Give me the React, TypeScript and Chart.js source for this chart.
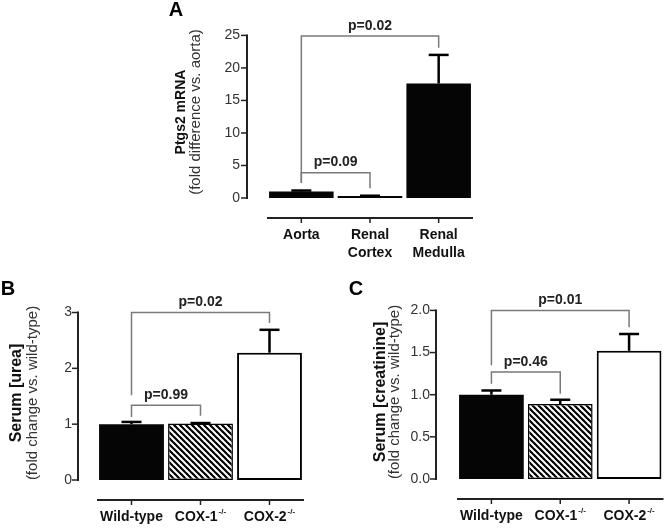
import React, { useEffect, useRef } from "react";
import { Chart, registerables } from "chart.js";

Chart.register(...registerables);

const FONT = "'Liberation Sans', Arial, Helvetica, sans-serif";

// ---------- Panel A data ----------
const categoriesA = [["Aorta"], ["Renal", "Cortex"], ["Renal", "Medulla"]];
const superscriptsA = ["", "", ""];
const valuesA = [1.0, 0.3, 17.6];
const errorTopsA = [1.15, 0.35, 22.0];
const yTicksA = [0, 5, 10, 15, 20, 25];
const yTickLabelsA = ["0", "5", "10", "15", "20", "25"];
const bracketsA = [
  { from: 0, to: 2, top: 24.9, leftEnd: 2.4, rightEnd: 23.1, label: "p=0.02" },
  { from: 0, to: 1, top: 3.9, leftEnd: 2.3, rightEnd: 1.5, label: "p=0.09" },
];

// ---------- Panel B data ----------
const categoriesB = [["Wild-type"], ["COX-1"], ["COX-2"]];
const superscriptsB = ["", "-/-", "-/-"];
const valuesB = [1.0, 1.01, 2.28];
const errorTopsB = [1.04, 1.02, 2.69];
const yTicksB = [0, 1, 2, 3];
const yTickLabelsB = ["0", "1", "2", "3"];
const bracketsB = [
  { from: 0, to: 2, top: 3.0, leftEnd: 1.52, rightEnd: 2.81, label: "p=0.02" },
  { from: 0, to: 1, top: 1.34, leftEnd: 1.13, rightEnd: 1.15, label: "p=0.99" },
];

// ---------- Panel C data ----------
const categoriesC = [["Wild-type"], ["COX-1"], ["COX-2"]];
const superscriptsC = ["", "-/-", "-/-"];
const valuesC = [1.0, 0.89, 1.52];
const errorTopsC = [1.05, 0.94, 1.72];
const yTicksC = [0, 0.5, 1.0, 1.5, 2.0];
const yTickLabelsC = ["0.0", "0.5", "1.0", "1.5", "2.0"];
const bracketsC = [
  { from: 0, to: 2, top: 2.0, leftEnd: 1.35, rightEnd: 1.8, label: "p=0.01" },
  { from: 0, to: 1, top: 1.27, leftEnd: 1.13, rightEnd: 1.01, label: "p=0.46" },
];

function makeHatch(): CanvasPattern | string {
  const s = 6;
  const c = document.createElement("canvas");
  c.width = s;
  c.height = s;
  const g = c.getContext("2d");
  if (!g) return "#888";
  g.fillStyle = "#fff";
  g.fillRect(0, 0, s, s);
  g.strokeStyle = "#000";
  g.lineWidth = 2.2;
  g.lineCap = "square";
  [-s, 0, s].forEach((k) => {
    g.beginPath();
    g.moveTo(-1, -1 + k);
    g.lineTo(s + 1, s + 1 + k);
    g.stroke();
  });
  const p = g.createPattern(c, "repeat");
  return p || "#888";
}

type Bracket = { from: number; to: number; top: number; leftEnd: number; rightEnd: number; label: string };

type PanelCfg = {
  id: string;
  left: number;
  top: number;
  w: number;
  h: number;
  letter: string;
  letterX: number;
  letterY: number;
  title: string;
  titleSize: number;
  titleX: number;
  subtitle: string;
  subX: number;
  titleCY: number;
  categories: string[][];
  sups: string[];
  values: number[];
  errs: number[];
  ticks: number[];
  tickLabels: string[];
  brackets: Bracket[];
  fills: ("solid" | "hatch" | "white")[];
  borders: number[];
  yAxisW: number;
  padTop: number;
  padRight: number;
  xAxisH: number;
  gapY: number;
  gapX: number;
  tickPad: number;
};

const panels: PanelCfg[] = [
  {
    id: "A", left: 160, top: 0, w: 340, h: 265,
    letter: "A", letterX: 16, letterY: 10,
    title: "Ptgs2 mRNA", titleSize: 14, titleX: 21,
    subtitle: "(fold difference vs. aorta)", subX: 36, titleCY: 112,
    categories: categoriesA, sups: superscriptsA, values: valuesA, errs: errorTopsA,
    ticks: yTicksA, tickLabels: yTickLabelsA, brackets: bracketsA,
    fills: ["solid", "solid", "solid"], borders: [0, 0, 0],
    yAxisW: 107, padTop: 30, padRight: 27, xAxisH: 67, gapY: 20, gapX: 20, tickPad: 27,
  },
  {
    id: "B", left: 0, top: 275, w: 330, h: 255,
    letter: "B", letterX: 8, letterY: 14,
    title: "Serum [urea]", titleSize: 16, titleX: 17,
    subtitle: "(fold change vs. wild-type)", subX: 33, titleCY: 118,
    categories: categoriesB, sups: superscriptsB, values: valuesB, errs: errorTopsB,
    ticks: yTicksB, tickLabels: yTickLabelsB, brackets: bracketsB,
    fills: ["solid", "hatch", "white"], borders: [0, 1.5, 2],
    yAxisW: 97, padTop: 37.5, padRight: 26, xAxisH: 50, gapY: 19, gapX: 20, tickPad: 25,
  },
  {
    id: "C", left: 330, top: 275, w: 336, h: 255,
    letter: "C", letterX: 26, letterY: 14,
    title: "Serum [creatinine]", titleSize: 16, titleX: 51,
    subtitle: "(fold change vs. wild-type)", subX: 65, titleCY: 117,
    categories: categoriesC, sups: superscriptsC, values: valuesC, errs: errorTopsC,
    ticks: yTicksC, tickLabels: yTickLabelsC, brackets: bracketsC,
    fills: ["solid", "hatch", "white"], borders: [0, 1.5, 2],
    yAxisW: 127, padTop: 35, padRight: 2.5, xAxisH: 51, gapY: 21, gapX: 20, tickPad: 27,
  },
];

function decorPlugin(cfg: PanelCfg) {
  return {
    id: "decor" + cfg.id,
    afterDraw(chart: any) {
      const { ctx, chartArea: ca } = chart;
      const x = chart.scales.x;
      const y = chart.scales.y;
      const yMin = cfg.ticks[0];
      const yMax = cfg.ticks[cfg.ticks.length - 1];
      ctx.save();
      ctx.lineCap = "butt";

      // detached y axis
      const ax = ca.left - cfg.gapY;
      ctx.strokeStyle = "#222";
      ctx.lineWidth = 2;
      ctx.beginPath();
      ctx.moveTo(ax, y.getPixelForValue(yMin) + 1);
      ctx.lineTo(ax, y.getPixelForValue(yMax) - 1);
      ctx.stroke();
      ctx.lineWidth = 1.5;
      cfg.ticks.forEach((v) => {
        const py = y.getPixelForValue(v);
        ctx.beginPath();
        ctx.moveTo(ax - 6, py);
        ctx.lineTo(ax, py);
        ctx.stroke();
      });

      // detached x axis
      const ay = ca.bottom + cfg.gapX;
      ctx.lineWidth = 2;
      ctx.beginPath();
      ctx.moveTo(ca.left, ay);
      ctx.lineTo(ca.right, ay);
      ctx.stroke();
      ctx.lineWidth = 1.5;
      cfg.categories.forEach((_, i) => {
        const px = x.getPixelForValue(i);
        ctx.beginPath();
        ctx.moveTo(px, ay);
        ctx.lineTo(px, ay + 5);
        ctx.stroke();
      });

      // category labels
      ctx.fillStyle = "#111";
      ctx.textBaseline = "middle";
      cfg.categories.forEach((lines, i) => {
        const px = x.getPixelForValue(i);
        lines.forEach((line, li) => {
          const ly = ay + 17 + li * 18;
          ctx.font = `bold 14px ${FONT}`;
          const w = ctx.measureText(line).width;
          const sup = li === lines.length - 1 ? cfg.sups[i] : "";
          ctx.font = `bold 8px ${FONT}`;
          const ws = sup ? ctx.measureText(sup).width + 1 : 0;
          const start = px - (w + ws) / 2;
          ctx.textAlign = "left";
          ctx.font = `bold 14px ${FONT}`;
          ctx.fillText(line, start, ly);
          if (sup) {
            ctx.font = `bold 8px ${FONT}`;
            ctx.fillText(sup, start + w + 1, ly - 5);
          }
        });
      });

      // error bars
      ctx.strokeStyle = "#000";
      cfg.values.forEach((v, i) => {
        const px = x.getPixelForValue(i);
        const top = y.getPixelForValue(v);
        const e = y.getPixelForValue(cfg.errs[i]);
        ctx.lineWidth = 2.5;
        ctx.beginPath();
        ctx.moveTo(px, top);
        ctx.lineTo(px, e);
        ctx.stroke();
        ctx.beginPath();
        ctx.moveTo(px - 10, e);
        ctx.lineTo(px + 10, e);
        ctx.stroke();
      });

      // significance brackets
      cfg.brackets.forEach((b) => {
        const x1 = x.getPixelForValue(b.from);
        const x2 = x.getPixelForValue(b.to);
        const yt = y.getPixelForValue(b.top);
        ctx.strokeStyle = "#7a7a7a";
        ctx.lineWidth = 1.5;
        ctx.beginPath();
        ctx.moveTo(x1, y.getPixelForValue(b.leftEnd));
        ctx.lineTo(x1, yt);
        ctx.lineTo(x2, yt);
        ctx.lineTo(x2, y.getPixelForValue(b.rightEnd));
        ctx.stroke();
        ctx.fillStyle = "#222";
        ctx.font = `bold 14px ${FONT}`;
        ctx.textAlign = "center";
        ctx.textBaseline = "middle";
        ctx.fillText(b.label, (x1 + x2) / 2, yt - 10);
      });

      // y titles
      ctx.fillStyle = "#111";
      ctx.textAlign = "center";
      ctx.textBaseline = "middle";
      ctx.save();
      ctx.translate(cfg.titleX, cfg.titleCY);
      ctx.rotate(-Math.PI / 2);
      ctx.font = `bold ${cfg.titleSize}px ${FONT}`;
      ctx.fillText(cfg.title, 0, 0);
      ctx.restore();
      ctx.save();
      ctx.fillStyle = "#333";
      ctx.translate(cfg.subX, cfg.titleCY);
      ctx.rotate(-Math.PI / 2);
      ctx.font = `15px ${FONT}`;
      ctx.fillText(cfg.subtitle, 0, 0);
      ctx.restore();

      // panel letter
      ctx.fillStyle = "#000";
      ctx.font = `bold 20px ${FONT}`;
      ctx.textAlign = "center";
      ctx.textBaseline = "middle";
      ctx.fillText(cfg.letter, cfg.letterX, cfg.letterY);

      ctx.restore();
    },
  };
}

function Panel({ cfg }: { cfg: PanelCfg }) {
  const ref = useRef<HTMLCanvasElement>(null);
  useEffect(() => {
    const canvas = ref.current;
    if (!canvas) return;
    const hatch = makeHatch();
    const fills = cfg.fills.map((f) => (f === "solid" ? "#050505" : f === "hatch" ? hatch : "#ffffff"));
    const chart = new Chart(canvas, {
      type: "bar",
      data: {
        labels: cfg.categories.map((c) => c.join(" ")),
        datasets: [
          {
            data: cfg.values,
            backgroundColor: fills as any,
            borderColor: "#000",
            borderWidth: cfg.borders,
            borderSkipped: false,
            barPercentage: 0.94,
            categoryPercentage: 1,
          } as any,
        ],
      },
      options: {
        responsive: false,
        animation: false,
        devicePixelRatio: 1,
        events: [],
        layout: { padding: { top: cfg.padTop, right: cfg.padRight, left: 0, bottom: 0 } },
        plugins: { legend: { display: false }, tooltip: { enabled: false }, title: { display: false } },
        scales: {
          x: {
            grid: { display: false, drawTicks: false },
            border: { display: false },
            ticks: { display: false },
            afterFit: (s: any) => {
              s.height = cfg.xAxisH;
            },
          },
          y: {
            min: cfg.ticks[0],
            max: cfg.ticks[cfg.ticks.length - 1],
            grid: { display: false, drawTicks: false },
            border: { display: false },
            ticks: {
              padding: cfg.tickPad,
              color: "#333",
              font: { family: FONT, size: 14 },
              callback: (_v: any, i: number) => cfg.tickLabels[i],
            },
            afterBuildTicks: (s: any) => {
              s.ticks = cfg.ticks.map((v) => ({ value: v }));
            },
            afterFit: (s: any) => {
              s.width = cfg.yAxisW;
            },
          },
        },
      } as any,
      plugins: [decorPlugin(cfg)],
    });
    return () => chart.destroy();
  }, [cfg]);
  return (
    <canvas
      ref={ref}
      width={cfg.w}
      height={cfg.h}
      style={{ position: "absolute", left: cfg.left, top: cfg.top, width: cfg.w, height: cfg.h }}
    />
  );
}

export default function App() {
  return (
    <div style={{ position: "absolute", left: 0, top: 0, width: 666, height: 530, background: "#fff", overflow: "hidden" }}>
      {panels.map((p) => (
        <Panel key={p.id} cfg={p} />
      ))}
    </div>
  );
}
